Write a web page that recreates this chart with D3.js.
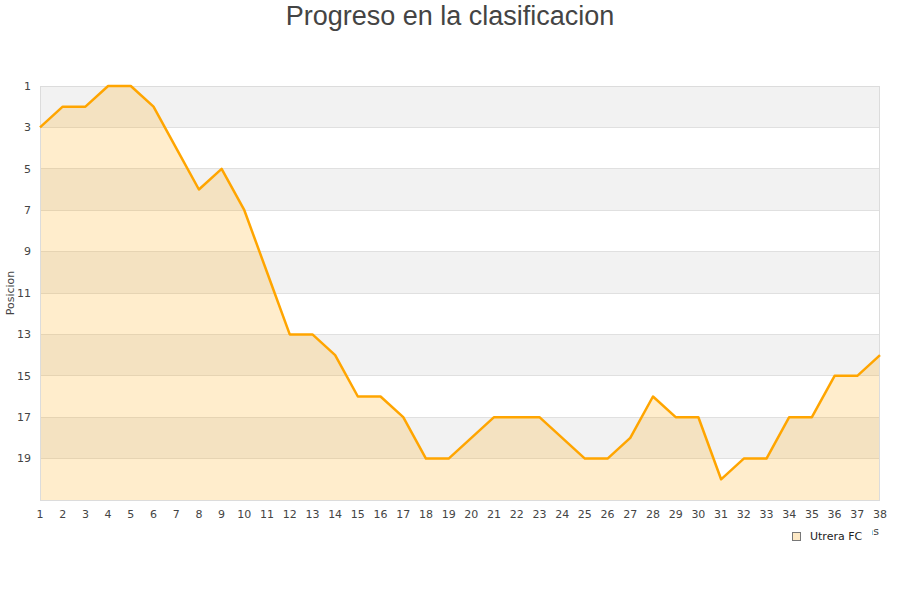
<!DOCTYPE html>
<html><head><meta charset="utf-8">
<script src="https://cdn.jsdelivr.net/npm/d3@7"></script>
<style>body{margin:0;background:#fff}svg{display:block}</style>
</head><body><svg id="c" width="900" height="600"></svg>
<script>
const jornadas = d3.range(1, 39);
const posiciones = [3,2,2,1,1,2,4,6,5,7,10,13,13,14,16,16,17,19,19,18,17,17,17,18,19,19,18,16,17,17,20,19,19,17,17,15,15,14];
const yTicks = [1,3,5,7,9,11,13,15,17,19];
const seriesName = "Utrera FC";
const titleText = "Progreso en la clasificacion";
const yTitle = "Posicion";
const xTitle = "Jornadas";

const svg = d3.select("#c");
const L = 40, R = 880, T = 86, B = 500;
const x = d3.scaleLinear().domain([1, 38]).range([L, R]);
const y = d3.scaleLinear().domain([1, 21]).range([T, B]);

const bands = d3.range(1, 21, 2);
svg.append("g").selectAll("rect").data(bands).join("rect")
  .attr("x", L).attr("width", R - L)
  .attr("y", d => y(d)).attr("height", d => y(d + 2) - y(d))
  .attr("fill", (d, i) => i % 2 === 0 ? "#f2f2f2" : "#ffffff");
svg.append("g").selectAll("line").data(yTicks.concat([21])).join("line")
  .attr("x1", L).attr("x2", R).attr("y1", d => y(d)).attr("y2", d => y(d))
  .attr("stroke", "#e0e0e0").attr("stroke-width", 1).attr("shape-rendering", "crispEdges");

const data = jornadas.map((j, i) => ({j, p: posiciones[i]}));
svg.append("path").datum(data)
  .attr("d", d3.area().x(d => x(d.j)).y0(B).y1(d => y(d.p)))
  .attr("fill", "orange").attr("fill-opacity", 0.2);

svg.append("rect").attr("x", L + 0.5).attr("y", T + 0.5).attr("width", R - L - 1).attr("height", B - T)
  .attr("fill", "none").attr("stroke", "#dcdcdc").attr("stroke-width", 1);

svg.append("path").datum(data)
  .attr("d", d3.line().x(d => x(d.j)).y(d => y(d.p)))
  .attr("fill", "none").attr("stroke", "#ffa500").attr("stroke-width", 2.5)
  .attr("stroke-linejoin", "round");

svg.append("g").selectAll("text").data(yTicks).join("text")
  .attr("x", 31).attr("y", d => y(d)).attr("dy", "0.35em")
  .attr("text-anchor", "end").attr("font-family", "DejaVu Sans").attr("font-size", 11)
  .attr("fill", "#444").text(d => d);
svg.append("g").selectAll("text").data(jornadas).join("text")
  .attr("x", d => x(d)).attr("y", 518)
  .attr("text-anchor", "middle").attr("font-family", "DejaVu Sans").attr("font-size", 11)
  .attr("fill", "#444").text(d => d);

svg.append("text").attr("x", 450).attr("y", 25).attr("text-anchor", "middle")
  .attr("font-family", "Liberation Sans, Arial, sans-serif").attr("font-size", 27)
  .attr("fill", "#444").text(titleText);
svg.append("text").attr("transform", "translate(14,293) rotate(-90)").attr("text-anchor", "middle")
  .attr("font-family", "DejaVu Sans").attr("font-size", 11).attr("fill", "#444").text(yTitle);

// x title, mostly hidden behind the legend as in the reference
svg.append("defs").append("clipPath").attr("id", "xt")
  .append("rect").attr("x", 780).attr("y", 520).attr("width", 120).attr("height", 30);
svg.append("text").attr("x", 879).attr("y", 535).attr("text-anchor", "end")
  .attr("clip-path", "url(#xt)")
  .attr("font-family", "DejaVu Sans").attr("font-size", 11).attr("fill", "#444").text(xTitle);

svg.append("rect").attr("x", 782).attr("y", 527).attr("width", 90).attr("height", 20).attr("fill", "#fff");
svg.append("rect").attr("x", 792.5).attr("y", 532.5).attr("width", 8).attr("height", 8)
  .attr("fill", "#fde9c6").attr("stroke", "#777").attr("stroke-width", 1);
svg.append("text").attr("x", 810).attr("y", 540)
  .attr("font-family", "DejaVu Sans").attr("font-size", 11).attr("fill", "#222").text(seriesName);
</script></body></html>
